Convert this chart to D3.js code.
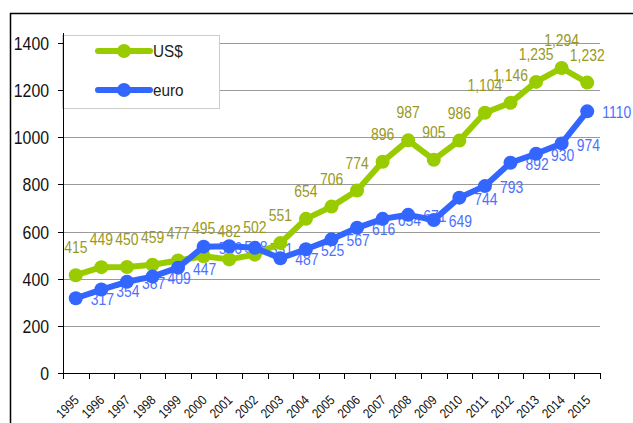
<!DOCTYPE html>
<html>
<head>
<meta charset="utf-8">
<script src="https://cdn.jsdelivr.net/npm/d3@7"></script>
<style>
  html, body { margin: 0; padding: 0; background: #fff; }
  svg { display: block; }
  text { font-family: "Liberation Sans", Arial, sans-serif; }
</style>
</head>
<body>
<svg id="chart" width="633" height="423"></svg>
<script>
// Years on the horizontal axis
const years = ["1995","1996","1997","1998","1999","2000","2001","2002","2003","2004",
               "2005","2006","2007","2008","2009","2010","2011","2012","2013","2014","2015"];
// Values in US dollars
const usd = [415, 449, 450, 459, 477, 495, 482, 502, 551, 654, 706, 774, 896, 987, 905, 986, 1104, 1146, 1235, 1294, 1232];
// Values in euro
const eur = [317, 354, 387, 409, 447, 536, 538, 531, 487, 525, 567, 616, 654, 671, 649, 744, 793, 892, 930, 974, 1110];
// Value axis ticks
const yTicks = [0, 200, 400, 600, 800, 1000, 1200, 1400];
const seriesNames = ["US$", "euro"];

const svg = d3.select("#chart");
const plot = { left: 63, right: 600, top: 43, bottom: 373 };

const x = d3.scaleBand().domain(years).range([plot.left, plot.right]);
const y = d3.scaleLinear().domain([0, 1400]).range([plot.bottom, plot.top]);
const cx = d => x(d) + x.bandwidth() / 2;

const greenLine = "#99cc00", blueLine = "#3366ff";
const greenText = "#999922", blueText = "#4d70ff";

// narrow lettering: horizontally squeezed text
function narrowText(parent, px, py, str, opts) {
  const o = Object.assign({ size: 17, squeeze: 0.82, anchor: "start", fill: "#111", dy: "0", rotate: 0 }, opts);
  return parent.append("text")
    .attr("transform", `translate(${px},${py}) rotate(${o.rotate}) scale(${o.squeeze},1)`)
    .attr("dy", o.dy)
    .attr("text-anchor", o.anchor)
    .attr("font-size", o.size)
    .attr("fill", o.fill)
    .text(str);
}

// outer frame (top and left edges)
svg.append("path")
  .attr("d", "M10.5,423 L10.5,13.5 L633,13.5")
  .attr("fill", "none").attr("stroke", "#000").attr("stroke-width", 1.5);

// horizontal gridlines
svg.append("g").selectAll("line")
  .data(yTicks.filter(v => v > 0))
  .join("line")
  .attr("x1", plot.left).attr("x2", plot.right)
  .attr("y1", d => Math.round(y(d)) + 0.5).attr("y2", d => Math.round(y(d)) + 0.5)
  .attr("stroke", "#9a9a9a").attr("stroke-width", 1);

// legend box
const legend = svg.append("g");
legend.append("rect")
  .attr("x", 62.5).attr("y", 35.5).attr("width", 157).attr("height", 73)
  .attr("fill", "#fff").attr("stroke", "#cccccc").attr("stroke-width", 1);
[[seriesNames[0], greenLine, 51], [seriesNames[1], blueLine, 90]].forEach(([name, col, ly]) => {
  legend.append("line").attr("x1", 98).attr("x2", 150).attr("y1", ly).attr("y2", ly)
    .attr("stroke", col).attr("stroke-width", 6).attr("stroke-linecap", "round");
  legend.append("circle").attr("cx", 124).attr("cy", ly).attr("r", 7).attr("fill", col);
  narrowText(legend, 153, ly, name, { size: 17, squeeze: 0.9, dy: "0.36em", fill: "#222" });
});

// y axis
const yAxis = svg.append("g");
yAxis.append("line").attr("x1", plot.left + 0.5).attr("x2", plot.left + 0.5)
  .attr("y1", 33).attr("y2", plot.bottom).attr("stroke", "#000");
yTicks.forEach(d => {
  const yy = Math.round(y(d)) + 0.5;
  yAxis.append("line").attr("x1", 58).attr("x2", plot.left).attr("y1", yy).attr("y2", yy).attr("stroke", "#000");
  narrowText(yAxis, 49, yy, d, { size: 18, squeeze: 0.88, anchor: "end", dy: "0.36em" });
});

// x axis
const xAxis = svg.append("g");
xAxis.append("line").attr("x1", plot.left).attr("x2", plot.right)
  .attr("y1", plot.bottom + 0.5).attr("y2", plot.bottom + 0.5).attr("stroke", "#000");
const bounds = years.map(d => x(d)).concat([plot.right]);
xAxis.selectAll("line.t").data(bounds).join("line").attr("class", "t")
  .attr("x1", d => Math.round(d) + 0.5).attr("x2", d => Math.round(d) + 0.5)
  .attr("y1", plot.bottom).attr("y2", plot.bottom + 6).attr("stroke", "#000");
years.forEach(d => {
  narrowText(xAxis, cx(d) + 4, plot.bottom + 28, d, { size: 13.5, squeeze: 0.85, anchor: "end", rotate: -45 });
});

// data labels
const fmt = d3.format(",");
const gLab = svg.append("g");
usd.forEach((v, i) => {
  narrowText(gLab, cx(years[i]), y(v) - 22, fmt(v), { anchor: "middle", fill: greenText });
});
const bLab = svg.append("g");
eur.forEach((v, i) => {
  narrowText(bLab, cx(years[i]) + 15, y(v), v, { anchor: "start", fill: blueText, dy: "0.42em" });
});

// series lines with markers
function drawSeries(vals, col) {
  const g = svg.append("g");
  g.append("path").datum(vals)
    .attr("d", d3.line().x((d, i) => cx(years[i])).y(d => y(d)))
    .attr("fill", "none").attr("stroke", col).attr("stroke-width", 6).attr("stroke-linejoin", "round");
  g.selectAll("circle").data(vals).join("circle")
    .attr("cx", (d, i) => cx(years[i])).attr("cy", d => y(d)).attr("r", 7).attr("fill", col);
}
drawSeries(usd, greenLine);
drawSeries(eur, blueLine);
</script>
</body>
</html>
